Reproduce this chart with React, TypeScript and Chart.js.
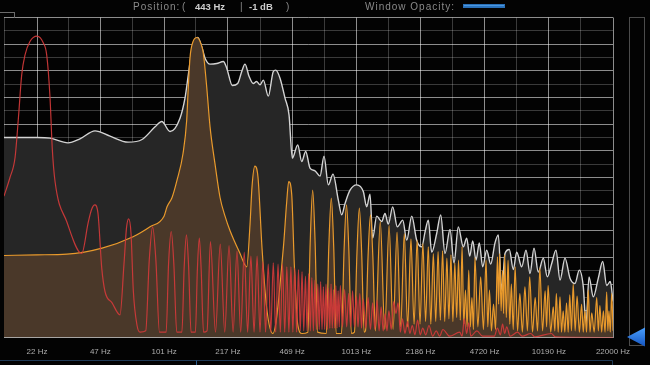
import React, { useEffect, useRef } from "react";
import { Chart, registerables } from "chart.js";

Chart.register(...registerables);

// Frequency grid (Hz) – one line per half label step, labels on every other one
const gridHz = [14.8, 22, 32.2, 47, 68.9, 101, 148, 217, 319, 469, 689, 1013, 1488, 2186, 3212, 4720, 6935, 10190, 14970, 22000];
const labeledHz = [22, 47, 101, 217, 469, 1013, 2186, 4720, 10190, 22000];
// Level grid (24 steps)
const levelSteps = [0, 1, 2, 3, 4, 5, 6, 7, 8, 9, 10, 11, 12, 13, 14, 15, 16, 17, 18, 19, 20, 21, 22, 23, 24];

// Overall spectrum [Hz, level]
const whiteSpectrum: [number, number][] = [
  [14.8, 15.0], [17.9, 15.0], [22, 15.0], [25.7, 14.95], [31.9, 14.6], [36.8, 14.9], [44.1, 15.5], [52.8, 15.1],
  [65.5, 14.65], [77.5, 14.85], [90.6, 15.8], [98.2, 16.2], [108.4, 15.45], [122.2, 16.45], [129.7, 17.95], [135, 19.7],
  [140.6, 21.45], [146.3, 22.3], [151.2, 22.5], [158.6, 21.8], [165, 20.95], [175.2, 20.5], [189.8, 20.55], [205.5, 20.7],
  [214, 20.2], [228.9, 18.9], [244.1, 19.05], [256.2, 19.95], [266.5, 20.5], [279.6, 19.6], [294.4, 19.05], [305.9, 19.2],
  [319.1, 18.95], [332, 19.3], [352.4, 18.1], [374.2, 19.95], [385.1, 20.05], [405.5, 19.45], [430.6, 17.95], [451.8, 16.7],
  [470, 13.45], [501.5, 14.45], [526, 13.2], [551.8, 13.95], [581, 12.7], [617, 12.5], [655.2, 12.1], [687.4, 13.6],
  [723.8, 11.45], [765.7, 12.25], [816, 10.3], [850, 9.2], [884.3, 10.05], [938.9, 11.05], [1017, 11.45], [1101, 10.95],
  [1147, 9.8], [1193, 10.75], [1232, 7.45], [1293, 9.1], [1373, 8.7], [1428, 9.3], [1486, 8.5], [1567, 9.8],
  [1656, 8.3], [1767, 8.8], [1854, 7.3], [1968, 9.1], [2089, 7.3], [2219, 6.8], [2308, 7.9], [2401, 8.8],
  [2501, 6.4], [2655, 7.8], [2786, 9.2], [2933, 6.3], [3115, 8.1], [3268, 5.6], [3441, 8.3], [3653, 6.8],
  [3805, 7.45], [3945, 6.1], [4090, 7.25], [4255, 5.8], [4426, 7.1], [4611, 5.3], [4837, 6.55], [5074, 5.5],
  [5343, 7.1], [5559, 7.7], [5791, 3.55], [6024, 6.3], [6343, 6.6], [6655, 5.1], [6932, 6.4], [7361, 5.3],
  [7750, 6.55], [8131, 4.8], [8530, 6.7], [8982, 4.9], [9537, 5.95], [10005, 4.55], [10549, 5.55], [11106, 6.55],
  [11652, 4.3], [12369, 5.95], [13134, 4.45], [13942, 4.05], [14680, 5.05], [15410, 3.8], [15916, 1.0], [16500, 4.55],
  [17373, 3.05], [18446, 4.45], [19442, 5.7], [20397, 3.9], [21300, 4.2], [22000, 2.7],
];

// Orange voice (150 Hz fundamental) [Hz, level]
const orangeSpectrum: [number, number][] = [
  [14.8, 6.15], [22, 6.2], [31.5, 6.25], [48, 6.7], [69.6, 7.55], [85.3, 8.3], [100.9, 9.1], [104.6, 9.8],
  [111.1, 10.5], [117.9, 11.8], [126.7, 13.8], [132.4, 16.3], [135, 18.8], [137.8, 21.0], [142.9, 22.2], [150, 22.5],
  [157.3, 22.0], [161.7, 21.3], [168.3, 18.8], [175.2, 15.8], [186, 13.0], [197.5, 10.5], [209.7, 9.1], [222.7, 8.0],
  [251, 6.3], [272, 5.3],
  [283, 8.5], [289.8, 11.3], [300, 12.85], [311.5, 12.0], [326.8, 6.7], [345.7, 2.2], [372, 0.3],
  [421.9, 6.7], [439.5, 10.2], [450, 11.7], [466.7, 10.7], [481.4, 5.45], [501.2, 1.0], [528, 0.3],
  [566, 0.4], [582, 7.0], [600, 11.05], [618, 7.0], [636, 0.4],
  [707, 0.3], [728, 6.8], [750, 10.45], [772, 6.8], [795, 0.3],
  [848, 0.3], [874, 6.5], [900, 9.95], [926, 6.5], [954, 0.3],
  [990, 0.4], [1020, 6.3], [1050, 9.7], [1080, 6.3], [1112, 0.4],
  [1130, 0.5], [1165, 6.0], [1200, 9.2], [1235, 6.0], [1272, 0.5],
  [1350, 8.7], [1424, 0.6], [1500, 8.4], [1574, 0.6], [1650, 7.9], [1724, 0.8], [1800, 7.8], [1874, 0.8],
  [1950, 7.4], [2024, 1.0], [2100, 7.3], [2174, 1.0], [2250, 7.05], [2324, 1.2], [2400, 6.8], [2474, 1.0],
  [2550, 6.3], [2624, 1.2], [2700, 6.45], [2774, 1.3], [2850, 6.5], [2924, 1.2], [3000, 5.95], [3074, 1.4],
  [3150, 6.2], [3224, 1.2], [3300, 5.6], [3374, 1.5], [3450, 5.8], [3524, 1.3], [3600, 6.8], [3675, 1.0],
  [3750, 3.55], [3825, 0.8], [3900, 5.05], [3975, 0.8], [4050, 3.0], [4125, 0.6], [4200, 6.0], [4350, 0.8],
  [4500, 4.55], [4650, 0.6], [4800, 5.8], [4900, 0.8], [5000, 3.55], [5120, 0.5], [5250, 2.5], [5380, 0.6],
  [5500, 6.05], [5580, 2.5], [5650, 6.3], [5750, 2.0], [5850, 5.0], [5925, 1.8], [6000, 6.2], [6120, 1.5],
  [6250, 5.8], [6380, 1.0], [6500, 4.0], [6650, 0.6], [6800, 5.3], [7000, 0.5], [7200, 3.3], [7420, 0.4],
  [7650, 3.8], [7880, 0.5], [8100, 4.55], [8380, 0.4], [8650, 3.0], [8900, 0.5], [9150, 5.2], [9450, 0.5],
  [9750, 3.5], [9920, 0.8], [10100, 3.9], [10420, 0.4], [10750, 2.3], [10950, 0.5], [11150, 3.3], [11400, 0.4],
  [11650, 3.05], [11870, 0.4], [12100, 2.0], [12350, 0.4], [12600, 2.6], [12850, 0.4], [13100, 3.2], [13370, 0.5],
  [13650, 4.0], [13970, 0.5], [14300, 3.1], [14700, 0.4], [15100, 2.5], [15400, 0.4], [15700, 2.0], [16020, 0.4],
  [16350, 3.55], [16700, 0.4], [17050, 1.85], [17550, 0.4], [18100, 3.0], [18450, 0.5], [18800, 2.4], [19200, 0.4],
  [19600, 2.0], [20000, 0.4], [20400, 3.4], [20680, 0.5], [20950, 2.0], [21300, 0.4], [21650, 3.3], [22000, 0.5],
];

// Red voice (22 Hz fundamental) [Hz, level]
const redSpectrum: [number, number][] = [
  [14.8, 10.6], [15.9, 12.0], [16.9, 13.5], [17.6, 16.5], [18.3, 19.7], [19.05, 21.2], [20.2, 22.2], [22, 22.6],
  [23.7, 22.1], [24.7, 21.2], [25.7, 18.0], [26.4, 14.2], [27.3, 11.7], [31.4, 8.7], [37.6, 6.3],
  [40.6, 8.6], [42.3, 9.6], [44, 9.95], [45.7, 9.3], [47.8, 5.2], [49.7, 3.45], [54.1, 2.6], [59.5, 1.7],
  [62.4, 5.5], [64.3, 8.2], [66, 8.9], [67.9, 7.8], [69.8, 3.5], [73, 0.9], [75.7, 0.4],
  [81, 0.5], [84.5, 5.8], [88, 8.3], [91.5, 5.8], [95.5, 0.4],
  [103.5, 0.4], [106.5, 5.5], [110, 7.95], [113.5, 5.5], [117.5, 0.4],
  [125, 0.4], [128.5, 5.3], [132, 7.7], [135.5, 5.3], [139.5, 0.4],
  [147, 0.4], [150.5, 5.1], [154, 7.45], [157.5, 5.1], [162, 0.4],
  [169, 0.5], [176, 7.2], [187, 0.4], [198, 7.0], [209, 0.4], [220, 6.9], [231, 0.4], [242, 6.5],
  [253, 0.4], [264, 6.4], [275, 0.4], [286, 6.1], [297, 0.4], [308, 6.1], [319, 0.4], [330, 5.7],
  [341, 0.4], [352, 5.5], [363, 0.4], [374, 5.6], [385, 0.4], [396, 5.5], [407, 0.4], [418, 5.5],
  [429, 0.4], [440, 5.3], [451, 0.4], [462, 5.3], [473, 0.4], [484, 5.2], [495, 0.4], [506, 5.1],
  [517, 0.5], [528, 4.95], [539, 0.5], [550, 4.6], [561, 0.5], [572, 4.8], [583, 0.5], [594, 4.5],
  [605, 0.5], [616, 4.3], [627, 0.6], [638, 4.0], [649, 0.6], [660, 4.2], [671, 0.6], [682, 3.8],
  [693, 0.6], [704, 4.0], [715, 0.6], [726, 3.7], [737, 0.7], [748, 4.0], [759, 0.7], [770, 3.6],
  [781, 0.7], [792, 3.9], [803, 0.7], [814, 3.5], [825, 0.8], [836, 3.9], [858, 0.8], [880, 3.6],
  [902, 0.8], [924, 3.3], [946, 0.8], [968, 3.5], [990, 0.8], [1012, 3.1], [1034, 0.8], [1056, 3.3],
  [1078, 0.7], [1100, 2.9], [1133, 0.7], [1166, 3.0], [1199, 0.6], [1232, 2.6], [1265, 0.6], [1298, 2.8],
  [1331, 0.5], [1364, 2.3], [1397, 0.5], [1430, 1.8], [1463, 0.5], [1496, 2.0], [1540, 0.6], [1584, 2.7],
  [1628, 1.8], [1672, 2.6], [1716, 0.4], [1760, 1.4], [1815, 0.3], [1870, 1.2], [1925, 0.3], [1980, 0.9],
  [2046, 0.2], [2112, 1.3], [2178, 0.2], [2244, 0.7], [2330, 0.2], [2420, 0.9], [2530, 0.1], [2640, 0.5],
  [2750, 0.1], [2860, 0.6], [3100, 0.1], [3500, 0.4], [3600, 0.1], [3700, 1.4], [3800, 0.3], [3900, 1.1],
  [4000, 0.1], [4300, 0.5], [4600, 0.1], [5300, 0.1], [5500, 0.7], [5700, 0.2], [5850, 1.0], [6000, 0.3],
  [6150, 0.8], [6400, 0.1], [7000, 0.4], [7400, 0.1], [8200, 0.3], [8600, 0.05], [10500, 0.3], [11000, 0.05],
  [22000, 0.0],
];

const GRID_DIM = "rgba(255,255,255,0.22)";
const GRID_BRIGHT = "rgba(255,255,255,0.55)";

const toXY = (arr: [number, number][]) => arr.map(([x, y]) => ({ x, y }));

export default function App() {
  const ref = useRef<HTMLCanvasElement | null>(null);

  useEffect(() => {
    if (!ref.current) return;
    const chart = new Chart(ref.current, {
      type: "line",
      data: {
        datasets: [
          {
            data: toXY(redSpectrum),
            borderColor: "rgba(208,58,58,0.92)",
            borderWidth: 1.2,
            fill: false,
            pointRadius: 0,
            cubicInterpolationMode: "monotone",
          },
          {
            data: toXY(orangeSpectrum),
            borderColor: "#e99a2c",
            borderWidth: 1.2,
            backgroundColor: "#4a3829",
            fill: "origin",
            pointRadius: 0,
            cubicInterpolationMode: "monotone",
          },
          {
            data: toXY(whiteSpectrum),
            borderColor: "#d4d4d4",
            borderWidth: 1.4,
            backgroundColor: "#262626",
            fill: "origin",
            pointRadius: 0,
            cubicInterpolationMode: "monotone",
          },
        ],
      },
      options: {
        animation: false,
        responsive: false,
        devicePixelRatio: 1,
        events: [],
        layout: { padding: { left: 4, right: 37, top: 17.5, bottom: 0 } },
        plugins: { legend: { display: false }, tooltip: { enabled: false } },
        scales: {
          x: {
            type: "logarithmic",
            min: 14.8,
            max: 22000,
            z: 1,
            afterBuildTicks: (scale: any) => {
              scale.ticks = gridHz.map((v) => ({ value: v }));
            },
            afterFit: (scale: any) => {
              scale.height = 27.5;
              scale.paddingLeft = 0;
              scale.paddingRight = 0;
            },
            ticks: {
              autoSkip: false,
              maxRotation: 0,
              minRotation: 0,
              padding: 9,
              color: "#adadad",
              font: { family: "Arial, 'Liberation Sans', sans-serif", size: 8 },
              callback: (value: any) => (labeledHz.includes(Number(value)) ? `${value} Hz` : ""),
            },
            grid: {
              drawTicks: false,
              lineWidth: 1,
              color: (ctx: any) => (labeledHz.includes(ctx.tick?.value) ? GRID_BRIGHT : GRID_DIM),
            },
            border: { display: true, color: GRID_BRIGHT, width: 1 },
          },
          y: {
            type: "linear",
            min: 0,
            max: 24,
            z: 1,
            afterBuildTicks: (scale: any) => {
              scale.ticks = levelSteps.map((v) => ({ value: v }));
            },
            afterFit: (scale: any) => {
              scale.width = 0;
              scale.paddingTop = 0;
              scale.paddingBottom = 0;
            },
            ticks: { display: false },
            grid: {
              drawTicks: false,
              lineWidth: 1,
              color: (ctx: any) => ((ctx.tick?.value ?? 1) % 2 === 0 ? GRID_BRIGHT : GRID_DIM),
            },
            border: { display: false },
          },
        },
      },
    } as any);
    return () => chart.destroy();
  }, []);

  const base: React.CSSProperties = {
    position: "absolute",
    top: 1,
    fontSize: 10,
    lineHeight: "12px",
    letterSpacing: 1,
    color: "#8a8a8a",
    whiteSpace: "pre",
  };
  const bold: React.CSSProperties = {
    ...base,
    fontSize: 9.5,
    fontWeight: "bold",
    letterSpacing: 0,
    color: "#cfcfcf",
  };

  return (
    <div
      style={{
        position: "absolute",
        left: 0,
        top: 0,
        width: 650,
        height: 365,
        background: "#030303",
        overflow: "hidden",
        fontFamily: "Arial, 'Liberation Sans', sans-serif",
      }}
    >
      <canvas ref={ref} width={650} height={365} style={{ position: "absolute", left: 0, top: 0, width: 650, height: 365 }} />
      {/* header */}
      <div style={{ ...base, left: 133 }}>Position:</div>
      <div style={{ ...base, left: 182 }}>(</div>
      <div style={{ ...bold, left: 195 }}>443 Hz</div>
      <div style={{ ...base, left: 240 }}>|</div>
      <div style={{ ...bold, left: 249 }}>-1 dB</div>
      <div style={{ ...base, left: 286 }}>)</div>
      <div style={{ ...base, left: 365 }}>Window Opacity:</div>
      <div
        style={{
          position: "absolute",
          left: 463,
          top: 4,
          width: 42,
          height: 4,
          background: "linear-gradient(#5aa8ee, #1a62b0)",
          border: "1px solid #2a70b8",
          boxSizing: "border-box",
        }}
      />
      {/* top-left tab */}
      <div
        style={{
          position: "absolute",
          left: 0,
          top: 12,
          width: 14,
          height: 5,
          borderTop: "1px solid #6a6a6a",
          borderRight: "1px solid #6a6a6a",
        }}
      />
      {/* right slider */}
      <div
        style={{
          position: "absolute",
          left: 629,
          top: 17,
          width: 16,
          height: 329,
          border: "1px solid #4c4c4c",
          boxSizing: "border-box",
        }}
      />
      <svg style={{ position: "absolute", left: 0, top: 0 }} width={650} height={365}>
        <defs>
          <linearGradient id="tri" x1="0" y1="0" x2="0" y2="1">
            <stop offset="0" stopColor="#4aa0ff" />
            <stop offset="1" stopColor="#1454c0" />
          </linearGradient>
        </defs>
        <polygon points="627,337 645,327.5 645,346.5" fill="url(#tri)" />
        <line x1="0" y1="360.5" x2="612.5" y2="360.5" stroke="#1f3a56" strokeWidth="1" />
        <line x1="612.5" y1="360.5" x2="612.5" y2="365" stroke="#1f3a56" strokeWidth="1" />
        <line x1="196.5" y1="360.5" x2="196.5" y2="365" stroke="#2a5c8c" strokeWidth="1" />
      </svg>
    </div>
  );
}
